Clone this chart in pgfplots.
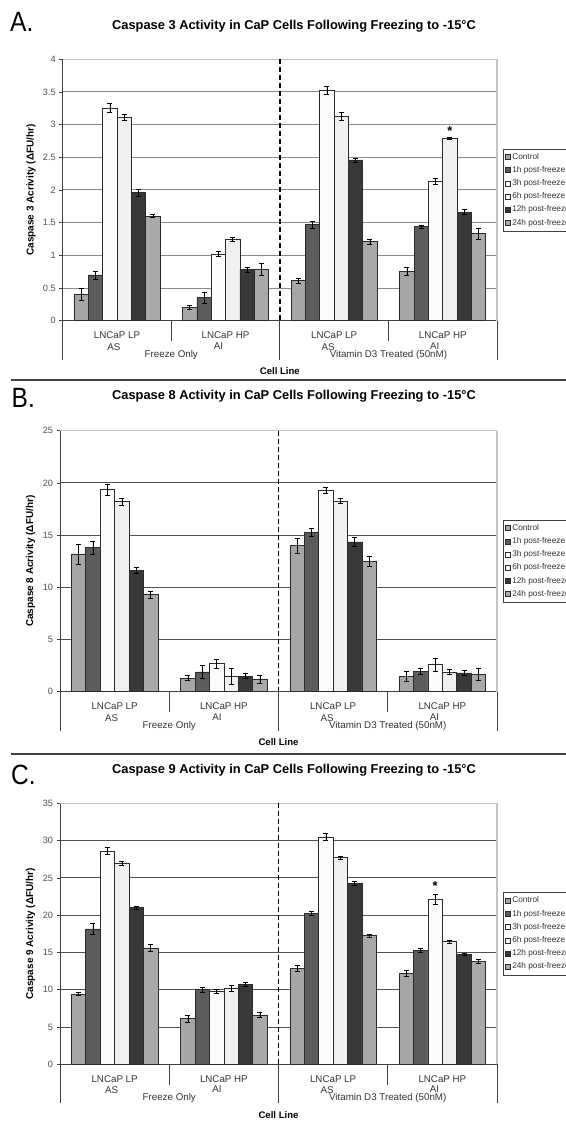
\documentclass[border=0pt]{standalone}
\usepackage{fontspec}
\setmainfont{Liberation Sans}
\newfontfamily\condfont[FakeStretch=0.88]{Liberation Sans}
\usepackage{pgfplots}
\pgfplotsset{compat=1.18}

\definecolor{cCtrl}{HTML}{A6A6A6}
\definecolor{cOne}{HTML}{5C5C5C}
\definecolor{cThree}{HTML}{FCFCFC}
\definecolor{cSix}{HTML}{F0F0F0}
\definecolor{cTwelve}{HTML}{383838}
\definecolor{cTwentyfour}{HTML}{A9A9A9}
\definecolor{barline}{HTML}{2B2B2B}
\definecolor{axisgray}{HTML}{404040}
\definecolor{labgray}{HTML}{505050}
\definecolor{catgray}{HTML}{333333}
\definecolor{bordergray}{HTML}{C4C4C4}
\definecolor{gridA}{HTML}{8A8A8A}
\definecolor{gridB}{HTML}{505050}

\newcommand{\ticklabfont}{\fontsize{9.2}{10}\selectfont}
\newcommand{\catfont}{\fontsize{9.8}{10}\selectfont}
\newcommand{\legfont}{\fontsize{8.3}{9}\selectfont}

\tikzset{
  catnode/.style={font=\catfont, text=catgray, inner sep=0pt},
  catline/.style={draw=axisgray, line width=0.8bp},
}

\pgfplotsset{
  caspase/.style={
    scale only axis,
    anchor=south west,
    xmin=0, xmax=4, ymin=0,
    xtick=\empty,
    axis x line*=bottom, axis y line*=left,
    axis line style={draw=axisgray, line width=0.8bp},
    ymajorgrids,
    tick align=outside,
    major tick length=3.5bp,
    ytick style={draw=axisgray, line width=0.6bp},
    yticklabel style={font=\ticklabfont, text=labgray},
    /pgf/number format/assume math mode=true,
    ylabel style={font=\bfseries\fontsize{10}{11}\selectfont, at={(rel axis cs:0,0.5)}, anchor=center},
    ybar=0pt, bar width=0.132,
    clip=false,
    legend cell align=left,
    legend style={at={(rel axis cs:1,0.5)}, anchor=west, xshift=6bp,
      draw=axisgray, line width=0.6bp, font=\legfont, text=catgray,
      inner xsep=2bp, inner ysep=1.5bp, row sep=0pt, column sep=1.5bp,
      nodes={inner sep=0pt, text height=5.9bp, text depth=1.6bp, minimum height=13.2bp}},
  },
  bars/.style={
    draw=barline, line width=0.7bp,
    error bars/y dir=both, error bars/y explicit,
    error bars/error bar style={black, line width=0.6bp},
    error bars/error mark options={rotate=90, mark size=2.5bp, black, line width=0.6bp},
    legend image code/.code={\draw[##1, line width=0.5bp] (0bp,-2.5bp) rectangle (5bp,2.5bp);},
  },
}

% lines and labels of the category axis, drawn inside an axis
\newcommand{\catlabels}{%
  \draw[white, line width=1.6bp] (rel axis cs:0,1) -- (rel axis cs:1,1);
  \draw[bordergray, line width=0.8bp] (rel axis cs:0,1) -- (rel axis cs:1,1);
  \draw[bordergray, line width=2bp] (rel axis cs:1,0) -- (rel axis cs:1,1);
  \draw[black, line width=1.3bp, dash pattern=on 5bp off 3bp] (rel axis cs:0.5,1) -- (rel axis cs:0.5,0);
  \draw[catline] (rel axis cs:0,0) -- ++(0bp,-39bp);
  \draw[catline] (rel axis cs:0.25,0) -- ++(0bp,-20.5bp);
  \draw[catline] (rel axis cs:0.5,0) -- ++(0bp,-39bp);
  \draw[catline] (rel axis cs:0.75,0) -- ++(0bp,-20.5bp);
  \draw[catline] (rel axis cs:1,0) -- ++(0bp,-39bp);
  \node[catnode] at ([yshift=-14.5bp]rel axis cs:0.125,0) {LNCaP LP};
  \node[catnode] at ([yshift=-14.5bp]rel axis cs:0.375,0) {LNCaP HP};
  \node[catnode] at ([yshift=-14.5bp]rel axis cs:0.625,0) {LNCaP LP};
  \node[catnode] at ([yshift=-14.5bp]rel axis cs:0.875,0) {LNCaP HP};
  \node[catnode] at ([yshift=-26bp,xshift=-3bp]rel axis cs:0.125,0) {AS};
  \node[catnode] at ([yshift=-25bp,xshift=-7bp]rel axis cs:0.375,0) {AI};
  \node[catnode] at ([yshift=-26bp,xshift=-6bp]rel axis cs:0.625,0) {AS};
  \node[catnode] at ([yshift=-25bp,xshift=-8bp]rel axis cs:0.875,0) {AI};
  \node[catnode] at ([yshift=-34bp]rel axis cs:0.25,0) {Freeze Only};
  \node[catnode] at ([yshift=-34bp]rel axis cs:0.75,0) {Vitamin D3 Treated (50nM)};
  \node[font=\bfseries\fontsize{9.6}{10}\selectfont, inner sep=0pt] at ([yshift=-50.5bp]rel axis cs:0.5,0) {Cell Line};
}

\newcommand{\legendrows}{\legend{Control, 1h post-freeze, 3h post-freeze, 6h post-freeze, 12h post-freeze, 24h post-freeze}}

\begin{document}
\begin{tikzpicture}
\useasboundingbox (0bp,0bp) rectangle (566bp,1121bp);
\clip (0bp,0bp) rectangle (566bp,1121bp);

% panel letters and titles
\node[font=\condfont\fontsize{28}{28}\selectfont, anchor=base west, inner sep=0pt] at (10bp,1089bp) {A.};
\node[font=\condfont\fontsize{28}{28}\selectfont, anchor=base west, inner sep=0pt] at (11.5bp,713bp) {B.};
\node[font=\condfont\fontsize{28}{28}\selectfont, anchor=base west, inner sep=0pt] at (11bp,336bp) {C.};
\node[font=\bfseries\fontsize{12.9}{14}\selectfont] at (294bp,1095bp) {Caspase 3 Activity in CaP Cells Following Freezing to -15°C};
\node[font=\bfseries\fontsize{12.9}{14}\selectfont] at (294bp,724.3bp) {Caspase 8 Activity in CaP Cells Following Freezing to -15°C};
\node[font=\bfseries\fontsize{12.9}{14}\selectfont] at (294bp,351bp) {Caspase 9 Activity in CaP Cells Following Freezing to -15°C};

% separators between panels
\draw[axisgray, line width=2bp] (11bp,741bp) -- (566bp,741bp);
\draw[axisgray, line width=2bp] (11bp,367bp) -- (566bp,367bp);

% ---------------- A: caspase 3
\begin{axis}[caspase, at={(62.7bp,800.3bp)}, width=434.3bp, height=261.5bp,
  ymax=4, ytick={0,0.5,1,1.5,2,2.5,3,3.5,4},
  major grid style={draw=gridA, line width=1bp},
  ylabel={Caspase 3 Acrivity (ΔFU/hr)}, ylabel style={yshift=31.7bp}]
\addplot[fill=cCtrl, bars] coordinates {(0.5,0.40) +- (0,0.09) (1.5,0.20) +- (0,0.03) (2.5,0.61) +- (0,0.04) (3.5,0.76) +- (0,0.06)};
\addplot[fill=cOne, bars] coordinates {(0.5,0.70) +- (0,0.06) (1.5,0.35) +- (0,0.08) (2.5,1.47) +- (0,0.05) (3.5,1.44) +- (0,0.02)};
\addplot[fill=cThree, bars] coordinates {(0.5,3.25) +- (0,0.07) (1.5,1.02) +- (0,0.04) (2.5,3.53) +- (0,0.06) (3.5,2.13) +- (0,0.05)};
\addplot[fill=cSix, bars] coordinates {(0.5,3.11) +- (0,0.04) (1.5,1.24) +- (0,0.03) (2.5,3.12) +- (0,0.06) (3.5,2.79) +- (0,0.02)};
\addplot[fill=cTwelve, bars] coordinates {(0.5,1.96) +- (0,0.05) (1.5,0.78) +- (0,0.04) (2.5,2.46) +- (0,0.03) (3.5,1.66) +- (0,0.04)};
\addplot[fill=cTwentyfour, bars] coordinates {(0.5,1.60) +- (0,0.02) (1.5,0.79) +- (0,0.09) (2.5,1.21) +- (0,0.04) (3.5,1.33) +- (0,0.08)};
\legendrows
\catlabels
\node[font=\bfseries\fontsize{13}{13}\selectfont, anchor=south, inner sep=0pt] at ([yshift=1bp]axis cs:3.566,2.81) {*};
\end{axis}

% ---------------- B: caspase 8
\begin{axis}[caspase, at={(60bp,429.3bp)}, width=437bp, height=261bp,
  ymax=25, ytick={0,5,10,15,20,25},
  major grid style={draw=gridB, line width=1bp},
  ylabel={Caspase 8 Acrivity (ΔFU/hr)}, ylabel style={yshift=29.5bp}]
\addplot[fill=cCtrl, bars] coordinates {(0.5,13.2) +- (0,0.95) (1.5,1.3) +- (0,0.25) (2.5,14.0) +- (0,0.7) (3.5,1.45) +- (0,0.5)};
\addplot[fill=cOne, bars] coordinates {(0.5,13.8) +- (0,0.6) (1.5,1.9) +- (0,0.6) (2.5,15.25) +- (0,0.4) (3.5,1.95) +- (0,0.25)};
\addplot[fill=cThree, bars] coordinates {(0.5,19.35) +- (0,0.5) (1.5,2.7) +- (0,0.45) (2.5,19.3) +- (0,0.25) (3.5,2.6) +- (0,0.6)};
\addplot[fill=cSix, bars] coordinates {(0.5,18.2) +- (0,0.35) (1.5,1.45) +- (0,0.75) (2.5,18.25) +- (0,0.25) (3.5,1.9) +- (0,0.25)};
\addplot[fill=cTwelve, bars] coordinates {(0.5,11.6) +- (0,0.3) (1.5,1.5) +- (0,0.25) (2.5,14.35) +- (0,0.4) (3.5,1.8) +- (0,0.25)};
\addplot[fill=cTwentyfour, bars] coordinates {(0.5,9.3) +- (0,0.35) (1.5,1.2) +- (0,0.4) (2.5,12.5) +- (0,0.5) (3.5,1.65) +- (0,0.55)};
\legendrows
\catlabels
\end{axis}

% ---------------- C: caspase 9
\begin{axis}[caspase, at={(60bp,56.7bp)}, width=437bp, height=261bp,
  ymax=35, ytick={0,5,10,15,20,25,30,35},
  major grid style={draw=gridB, line width=1bp},
  ylabel={Caspase 9 Acrivity (ΔFU/hr)}, ylabel style={yshift=29.5bp}]
\addplot[fill=cCtrl, bars] coordinates {(0.5,9.4) +- (0,0.2) (1.5,6.1) +- (0,0.45) (2.5,12.9) +- (0,0.4) (3.5,12.2) +- (0,0.35)};
\addplot[fill=cOne, bars] coordinates {(0.5,18.15) +- (0,0.75) (1.5,10.0) +- (0,0.3) (2.5,20.25) +- (0,0.25) (3.5,15.25) +- (0,0.25)};
\addplot[fill=cThree, bars] coordinates {(0.5,28.6) +- (0,0.45) (1.5,9.8) +- (0,0.25) (2.5,30.5) +- (0,0.45) (3.5,22.15) +- (0,0.65)};
\addplot[fill=cSix, bars] coordinates {(0.5,27.0) +- (0,0.25) (1.5,10.15) +- (0,0.4) (2.5,27.75) +- (0,0.2) (3.5,16.45) +- (0,0.2)};
\addplot[fill=cTwelve, bars] coordinates {(0.5,21.0) +- (0,0.2) (1.5,10.7) +- (0,0.3) (2.5,24.3) +- (0,0.3) (3.5,14.75) +- (0,0.2)};
\addplot[fill=cTwentyfour, bars] coordinates {(0.5,15.6) +- (0,0.45) (1.5,6.6) +- (0,0.35) (2.5,17.25) +- (0,0.2) (3.5,13.8) +- (0,0.25)};
\legendrows
\catlabels
\node[font=\bfseries\fontsize{13}{13}\selectfont, anchor=south, inner sep=0pt] at ([yshift=3.5bp]axis cs:3.434,22.8) {*};
\end{axis}
\end{tikzpicture}
\end{document}
